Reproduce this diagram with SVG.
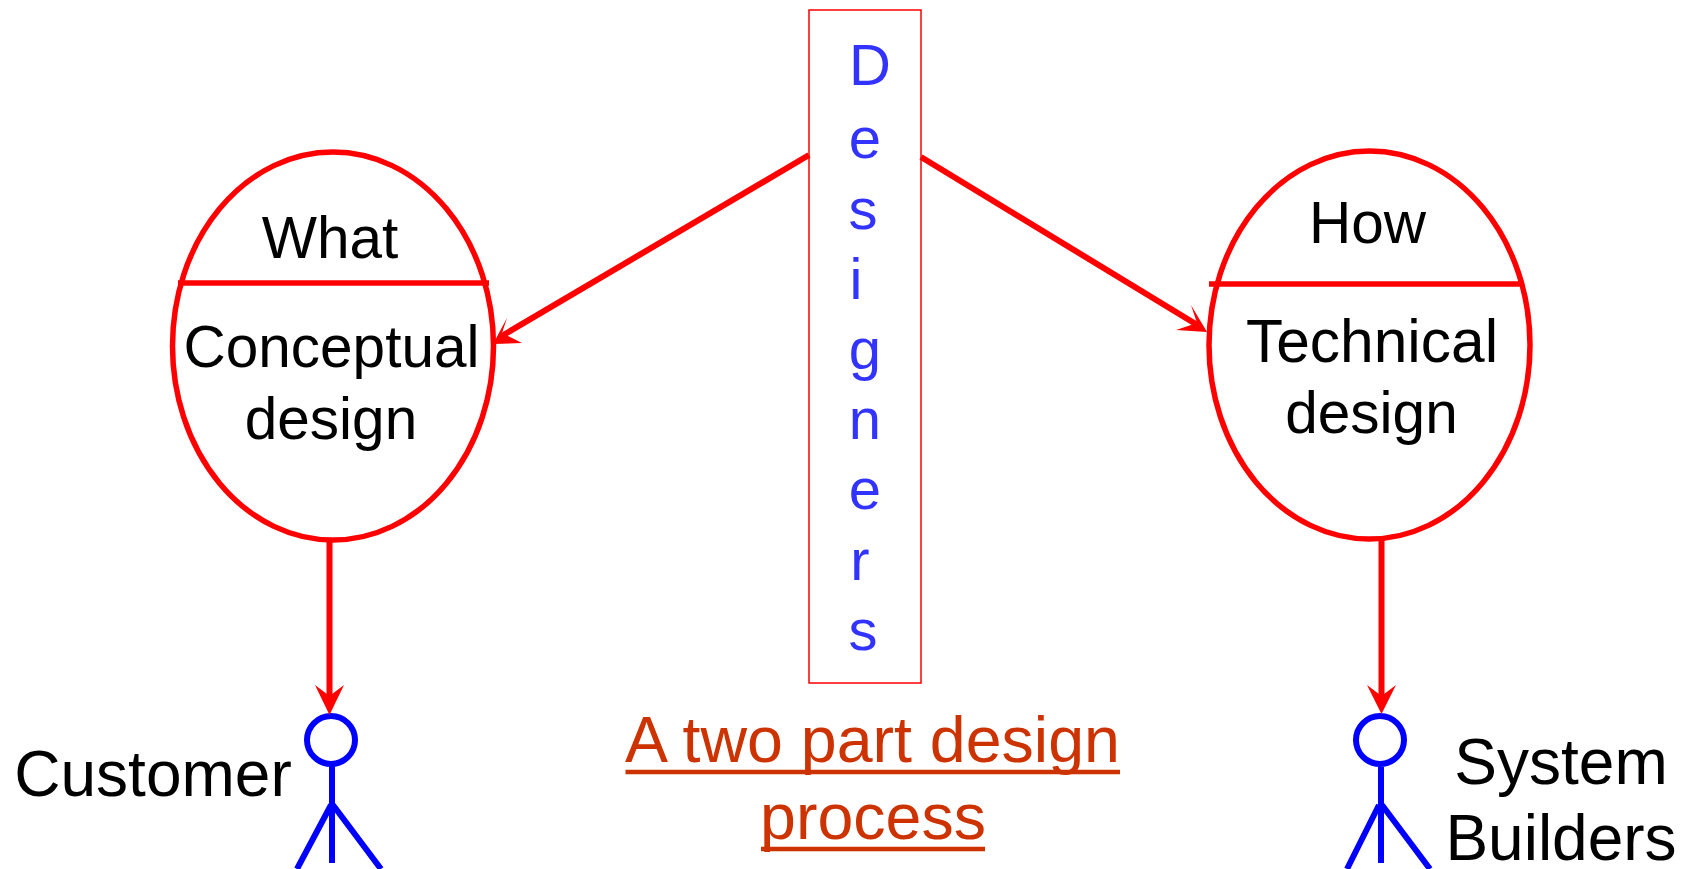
<svg xmlns="http://www.w3.org/2000/svg" width="1688" height="869" viewBox="0 0 1688 869">
<style>
text{font-family:"Liberation Sans",Arial,sans-serif;text-anchor:middle;fill:#000}
.t{font-size:58.500px}
.a{font-size:64px}
.d{font-size:58px;fill:#3333ff}
.u{font-size:64.500px;fill:#cc3300}
.l{fill:none;stroke:#cc3300;stroke-width:4.500}
.r{fill:none;stroke:#ff0000;stroke-width:5.5}
.b{fill:none;stroke:#0000ff;stroke-width:6}
.c{fill:none;stroke:#ff0000;stroke-width:6}
.h{fill:#ff0000}
</style>
<rect width="1688" height="869" fill="#fff"/>
<g id="what-node">
<ellipse class="r" cx="333" cy="346" rx="160.500" ry="194"/>
<line class="r" x1="178" y1="283" x2="489" y2="283"/>
<text class="t" x="330" y="258">What</text>
<text class="t" x="331.500" y="367">Conceptual</text>
<text class="t" x="331" y="438.500">design</text>
</g>
<g id="how-node">
<ellipse class="r" cx="1369.500" cy="345" rx="160.500" ry="194"/>
<line class="r" x1="1209" y1="284" x2="1520" y2="284"/>
<text class="t" x="1367.500" y="243">How</text>
<text class="t" x="1372" y="362" style="font-size:60.500px">Technical</text>
<text class="t" x="1371.500" y="432.500">design</text>
</g>
<g id="designers-node">
<rect x="809" y="10" width="112" height="673" fill="none" stroke="#ff0000" stroke-width="1.500"/>
<text class="d" x="870" y="85">D</text>
<text class="d" x="865" y="158">e</text>
<text class="d" x="863" y="229">s</text>
<text class="d" x="856" y="299">i</text>
<text class="d" x="865" y="369">g</text>
<text class="d" x="865" y="439">n</text>
<text class="d" x="865" y="509">e</text>
<text class="d" x="860" y="580">r</text>
<text class="d" x="863" y="650">s</text>
</g>
<g id="customer-node">
<circle class="b" cx="331" cy="740" r="24"/>
<path class="b" d="M332 765V863M331 805L297 869M333 805L381 869"/>
<text class="a" x="153" y="796">Customer</text>
</g>
<g id="builders-node">
<circle class="b" cx="1380" cy="740" r="24"/>
<path class="b" d="M1381 767V863M1379 805L1347 869M1382 805L1430 869"/>
<text class="a" x="1561" y="784">System</text>
<text class="a" x="1561" y="860">Builders</text>
</g>
<g id="title">
<text class="u" x="872.500" y="761.500">A two part design</text>
<text class="u" x="873" y="838.500">process</text>
<path class="l" d="M625.500 772H1120M761 849H985"/>
</g>
<g id="connectors">
<line class="c" x1="809" y1="155" x2="500" y2="337"/>
<polygon class="h" points="493,344 507,318 502,333 522,343"/>
<line class="c" x1="921" y1="157" x2="1199" y2="326"/>
<polygon class="h" points="1207,332 1191,305 1197,323 1176,330"/>
<line class="c" x1="329.500" y1="540" x2="329.500" y2="702"/>
<polygon class="h" points="329.500,715 315,685 329.500,696 344,685"/>
<line class="c" x1="1381.500" y1="540" x2="1381.500" y2="702"/>
<polygon class="h" points="1381.500,714 1367,685 1381.500,696 1396,685"/>
</g>
</svg>
